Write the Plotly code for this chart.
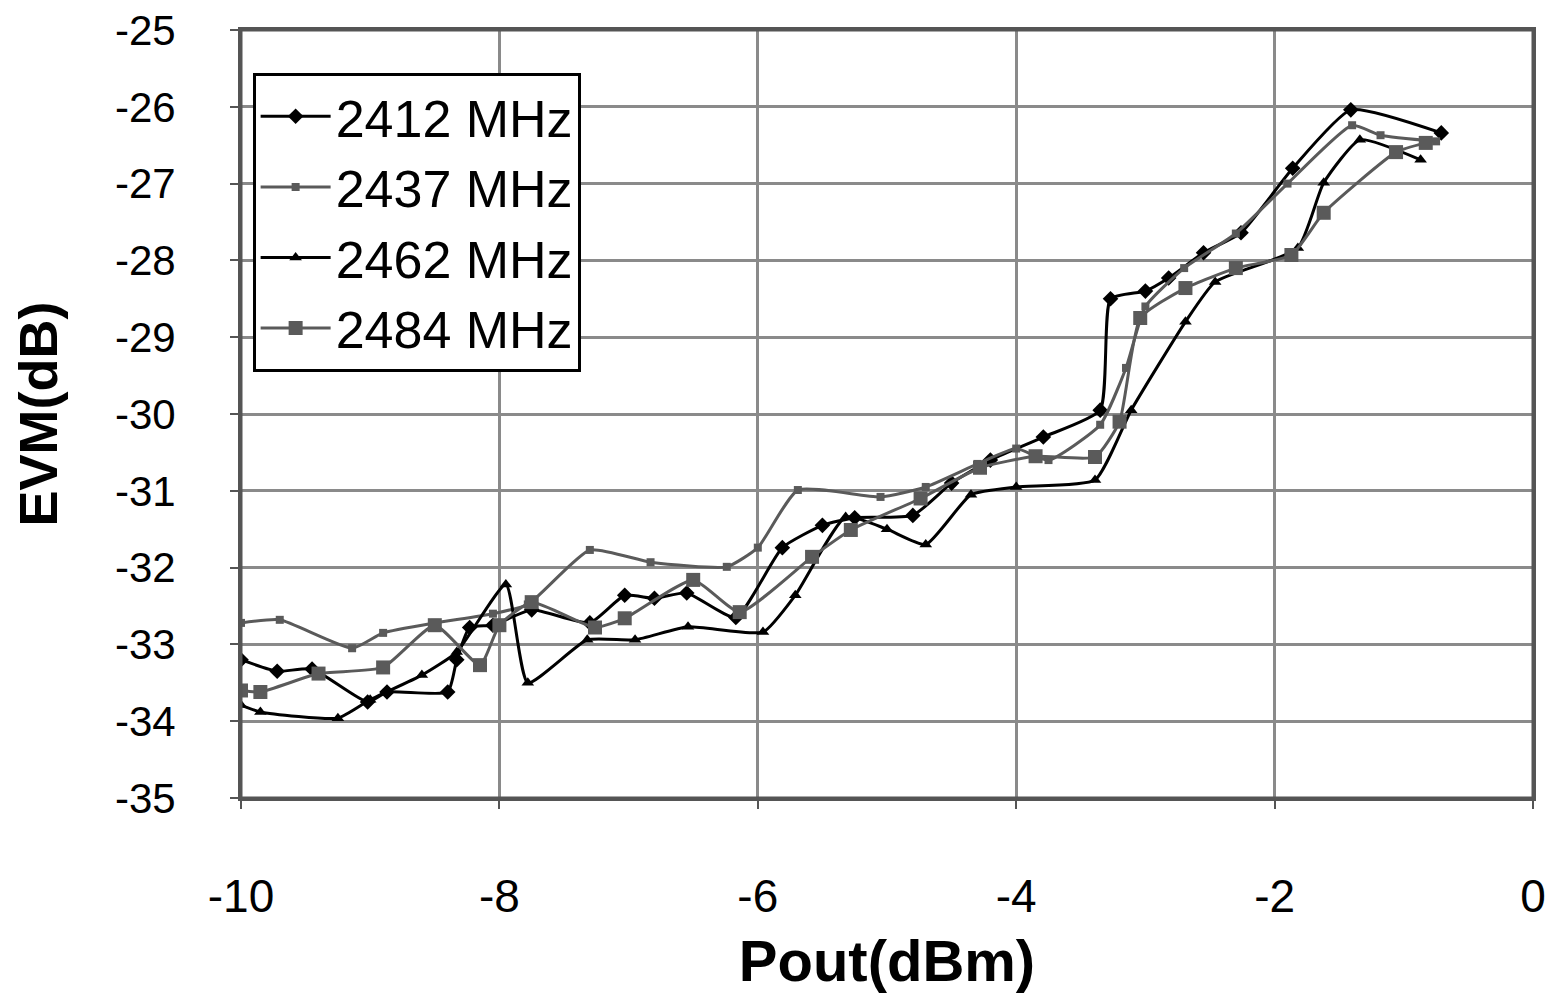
import plotly.graph_objects as go

# ---- data ----
x_2412 = [-10.0, -9.72, -9.45, -9.02, -8.87, -8.4, -8.33, -8.23, -8.05, -7.75, -7.3, -7.03, -6.8, -6.55, -6.17,
          -5.81, -5.5, -5.25, -4.8, -4.5, -4.2, -3.79, -3.35, -3.27, -3.0, -2.82, -2.55, -2.26, -1.86, -1.41, -0.71]
y_2412 = [-33.2, -33.35, -33.32, -33.75, -33.62, -33.62, -33.2, -32.78, -32.75, -32.55, -32.72, -32.36, -32.4, -32.33, -32.65,
          -31.74, -31.45, -31.35, -31.32, -30.9, -30.6, -30.3, -29.95, -28.5, -28.4, -28.23, -27.9, -27.64, -26.8, -26.04, -26.34]

x_2437 = [-10.0, -9.7, -9.14, -8.9, -8.5, -8.05, -7.78, -7.3, -6.83, -6.24, -6.0, -5.69, -5.05, -4.7, -4.3, -4.0,
          -3.75, -3.35, -3.15, -3.0, -2.7, -2.3, -1.9, -1.4, -1.18, -0.75]
y_2437 = [-32.72, -32.68, -33.05, -32.85, -32.72, -32.6, -32.48, -31.77, -31.93, -31.99, -31.74, -30.99, -31.08, -30.95, -30.65, -30.45,
          -30.6, -30.14, -29.4, -28.6, -28.1, -27.65, -27.0, -26.24, -26.37, -26.45]

x_2462 = [-10.0, -9.85, -9.25, -9.0, -8.6, -8.33, -7.95, -7.78, -7.32, -6.95, -6.54, -5.96, -5.71, -5.32, -5.0,
          -4.7, -4.35, -4.0, -3.39, -3.11, -2.69, -2.46, -1.82, -1.62, -1.34, -0.87]
y_2462 = [-33.79, -33.88, -33.96, -33.72, -33.4, -33.1, -32.22, -33.5, -32.94, -32.94, -32.77, -32.84, -32.36, -31.34, -31.5,
          -31.7, -31.05, -30.95, -30.86, -29.95, -28.8, -28.28, -27.84, -26.99, -26.43, -26.69]

x_2484 = [-10.0, -9.85, -9.4, -8.9, -8.5, -8.15, -8.0, -7.75, -7.26, -7.03, -6.5, -6.14, -5.58, -5.28, -4.74, -4.28,
          -3.85, -3.39, -3.2, -3.04, -2.69, -2.3, -1.87, -1.62, -1.06, -0.83]
y_2484 = [-33.6, -33.62, -33.38, -33.3, -32.75, -33.27, -32.75, -32.45, -32.78, -32.66, -32.16, -32.58, -31.86, -31.51, -31.1, -30.7,
          -30.55, -30.56, -30.1, -28.75, -28.36, -28.1, -27.93, -27.38, -26.59, -26.47]

names = ["2412 MHz", "2437 MHz", "2462 MHz", "2484 MHz"]
x_ticks = [-10, -8, -6, -4, -2, 0]
y_ticks = [-35, -34, -33, -32, -31, -30, -29, -28, -27, -26, -25]

BLACK = "#000000"
GRAY = "#5a5a5a"

series = [
    (x_2412, y_2412, names[0], BLACK, "diamond", 12),
    (x_2437, y_2437, names[1], GRAY, "square", 8),
    (x_2462, y_2462, names[2], BLACK, "triangle-up", 11),
    (x_2484, y_2484, names[3], GRAY, "square", 14),
]

fig = go.Figure()
for i, (xs, ys, nm, col, sym, sz) in enumerate(series):
    fig.add_trace(go.Scatter(
        x=xs, y=ys, name=nm, mode="lines+markers",
        line=dict(color=col, width=3, shape="spline", smoothing=0.5),
        marker=dict(symbol=sym, size=sz, color=col),
        legendgroup=str(i),
    ))

font_family = "Liberation Sans, Arial, sans-serif"
fig.update_layout(
    width=1549, height=986,
    margin=dict(l=233, r=24, t=22, b=196, autoexpand=False),
    paper_bgcolor="white", plot_bgcolor="white",
    font=dict(family=font_family, size=44, color="black"),
    showlegend=True,
    legend=dict(
        x=0.009, y=0.944, xanchor="left", yanchor="top",
        bgcolor="white", bordercolor="black", borderwidth=3,
        font=dict(size=52, color="black"),
        traceorder="grouped", tracegroupgap=0,
        itemwidth=70,
    ),
    xaxis=dict(
        range=[-10, 0], tickmode="array", tickvals=x_ticks,
        ticktext=[str(v) for v in x_ticks],
        showgrid=True, gridcolor="#8a8a8a", gridwidth=2.5,
        showline=True, linecolor="#555555", linewidth=3, mirror=True,
        ticks="outside", ticklen=8, tickcolor="#555555", tickwidth=2,
        ticklabelstandoff=48, ticklabeloverflow="allow",
        zeroline=False, automargin=False,
        title=dict(text="<b>Pout(dBm)</b>", font=dict(size=58), standoff=20),
        tickfont=dict(size=46),
    ),
    yaxis=dict(
        range=[-35, -25], tickmode="array", tickvals=y_ticks,
        ticktext=[str(v) for v in y_ticks],
        showgrid=True, gridcolor="#8a8a8a", gridwidth=2.5,
        showline=True, linecolor="#555555", linewidth=3, mirror=True,
        ticks="outside", ticklen=8, tickcolor="#555555", tickwidth=2,
        ticklabelstandoff=46, ticklabeloverflow="allow",
        zeroline=False, automargin=False,
        title=dict(text="<b>EVM(dB)</b>", font=dict(size=54), standoff=40),
        tickfont=dict(size=42),
    ),
    shapes=[dict(type="rect", xref="paper", yref="paper", x0=0, y0=0, x1=1, y1=1,
                 line=dict(color="#555555", width=3), fillcolor="rgba(0,0,0,0)", layer="above")],
)

fig.write_html("out.html")
